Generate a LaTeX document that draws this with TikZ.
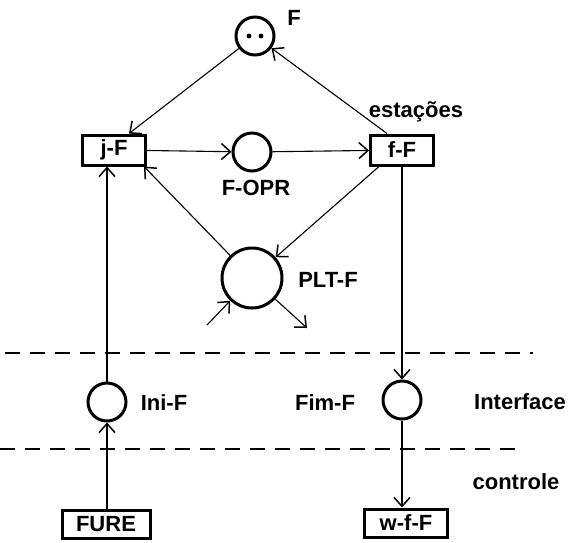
\documentclass[tikz,border=0pt]{standalone}
\usepackage{fontspec}
\setmainfont{Liberation Sans}
\usetikzlibrary{arrows.meta}
\newcommand\lblfont{\fontsize{22}{25}\selectfont\bfseries}
\begin{document}
\begin{tikzpicture}[x=1pt,y=-1pt,
  place/.style={circle,draw,line width=3pt,minimum size=38pt,inner sep=0pt},
  trans/.style={draw,line width=3pt,minimum width=63pt,minimum height=30pt,inner sep=0pt,font=\lblfont},
  lbl/.style={font=\lblfont,inner sep=0pt},
  conn/.style={line width=1.1pt,-{Straight Barb[length=9pt,width=16pt,line width=1.5pt]}},
  sep/.style={line width=2.8pt,dash pattern=on 15pt off 10pt}]
\useasboundingbox (0,0) rectangle (569,542);
% places and transitions
\node[place] (F) at (255,36) {};
\fill (249,36) circle (2.4pt) (261,36) circle (2.4pt);
\node[trans] (jF) at (114,150) {j-F};
\node[place] (FOPR) at (252,152) {};
\node[trans] (fF) at (402,150) {f-F};
\node[place,minimum size=60pt] (PLT) at (252,278) {};
\node[place] (IniF) at (107,402) {};
\node[place] (FimF) at (402,400) {};
\node[trans,minimum width=88pt,minimum height=28pt] (FURE) at (106,524) {FURE};
\node[trans,minimum width=83pt,minimum height=28pt] (wfF) at (406,523) {w-f-F};
% labels
\node[lbl] (lF) at (294,18) {F};
\node[lbl] (lest) at (416,112) {estações};
\node[lbl] (lFOPR) at (256,188) {F-OPR};
\node[lbl] (lPLT) at (328,280) {PLT-F};
\node[lbl] (lIni) at (164,403) {Ini-F};
\node[lbl] (lFim) at (325,403) {Fim-F};
\node[lbl] (lInt) at (520,402) {Interface};
\node[lbl] (lctl) at (516,482) {controle};
% free ends
\coordinate (pin) at (207,325);
\coordinate (pout) at (307,328);
\coordinate (d1a) at (5,353);
\coordinate (d1b) at (533,353);
\coordinate (d2a) at (0,449);
\coordinate (d2b) at (522,449);
% connectors
\draw[conn] (F) -- ([xshift=-18pt]jF.north east);
\draw[conn] ([xshift=18pt]fF.north west) -- (F);
\draw[conn] (jF) -- (FOPR);
\draw[conn] (FOPR) -- (fF);
\draw[conn] ([xshift=10pt]fF.south west) -- (PLT);
\draw[conn] (PLT) -- ([xshift=-3pt]jF.south east);
\draw[conn] (pin) -- (PLT);
\draw[conn] (PLT) -- (pout);
\draw[conn] (IniF) -- (IniF |- jF.south);
\draw[conn] (IniF |- FURE.north) -- (IniF);
\draw[conn] (fF) -- (FimF);
\draw[conn] (FimF) -- (FimF |- wfF.north);
% separators
\draw[sep] (d1a) -- (d1b);
\draw[sep] (d2a) -- (d2b);
\end{tikzpicture}
\end{document}
